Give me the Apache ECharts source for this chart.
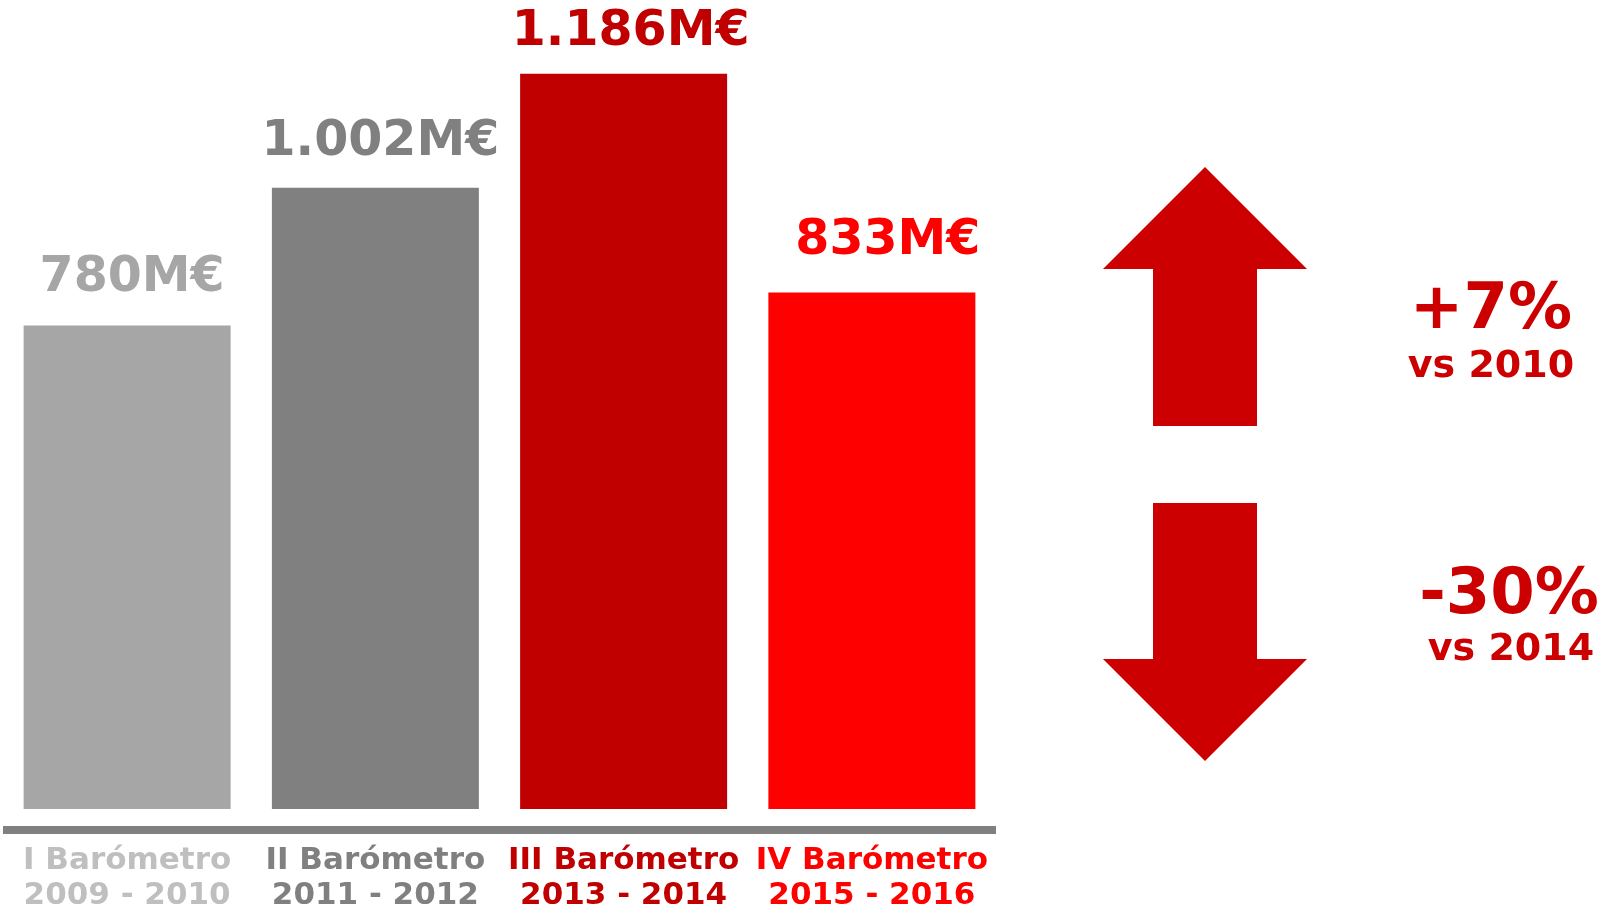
<!DOCTYPE html>
<html>
<head>
<meta charset="utf-8">
<script src="https://cdn.jsdelivr.net/npm/echarts@6/dist/echarts.min.js"></script>
<style>html,body{margin:0;padding:0;background:#fff}#c{width:1607px;height:906px}</style>
</head>
<body>
<div id="c"></div>
<script>
var categories = ['I Barómetro\n2009 - 2010', 'II Barómetro\n2011 - 2012', 'III Barómetro\n2013 - 2014', 'IV Barómetro\n2015 - 2016'];
var values = [780, 1002, 1186, 833];
var valueLabels = ['780M€', '1.002M€', '1.186M€', '833M€'];
var barColors = ['#A6A6A6', '#808080', '#C00000', '#FF0000'];
var catLabelColors = ['#BFBFBF', '#808080', '#C00000', '#FF0000'];
var changeTexts = ['+7%', '-30%'];
var changeRefs = ['vs 2010', 'vs 2014'];

var FONT = 'DejaVu Sans';
var labelDist = [23, 21, 17, 27];
var labelOff = [[5, 0], [5, 0], [7, 0], [16, 0]];
var red = '#CC0000';

var chart = echarts.init(document.getElementById('c'));
chart.setOption({
  animation: false,
  grid: { left: 3, right: 611, top: 3, bottom: 97, containLabel: false, outerBoundsMode: 'none' },
  xAxis: {
    type: 'category',
    data: categories.map(function (c, i) {
      return { value: c, textStyle: { color: catLabelColors[i] } };
    }),
    offset: 21,
    axisLine: { show: true, onZero: false, lineStyle: { color: '#808080', width: 8, cap: 'butt' } },
    axisTick: { show: false },
    axisLabel: { fontFamily: FONT, fontWeight: 'bold', fontSize: 31, lineHeight: 35, margin: 13, interval: 0 }
  },
  yAxis: {
    type: 'value', min: 0, max: 1300, show: false, splitLine: { show: false }
  },
  series: [{
    type: 'bar',
    barWidth: 207,
    data: values.map(function (v, i) {
      return {
        value: v,
        itemStyle: { color: barColors[i] },
        label: {
          show: true, position: 'top', distance: labelDist[i], offset: labelOff[i],
          formatter: valueLabels[i], color: barColors[i],
          fontFamily: FONT, fontWeight: 'bold', fontSize: 49, lineHeight: 49
        }
      };
    })
  }],
  graphic: [
    { type: 'polygon', shape: { points: [[1205, 167], [1307, 269], [1257, 269], [1257, 426], [1153, 426], [1153, 269], [1103, 269]] }, style: { fill: red } },
    { type: 'polygon', shape: { points: [[1153, 503], [1257, 503], [1257, 659], [1307, 659], [1205, 761], [1103, 659], [1153, 659]] }, style: { fill: red } },
    { type: 'text', x: 1491, y: 311, style: { text: changeTexts[0], fill: red, font: 'bold 64px "DejaVu Sans"', align: 'center', verticalAlign: 'middle' } },
    { type: 'text', x: 1491, y: 367, style: { text: changeRefs[0], fill: red, font: 'bold 38px "DejaVu Sans"', align: 'center', verticalAlign: 'middle' } },
    { type: 'text', x: 1509, y: 596, style: { text: changeTexts[1], fill: red, font: 'bold 64px "DejaVu Sans"', align: 'center', verticalAlign: 'middle' } },
    { type: 'text', x: 1511, y: 650, style: { text: changeRefs[1], fill: red, font: 'bold 38px "DejaVu Sans"', align: 'center', verticalAlign: 'middle' } }
  ]
});
</script>
</body>
</html>
